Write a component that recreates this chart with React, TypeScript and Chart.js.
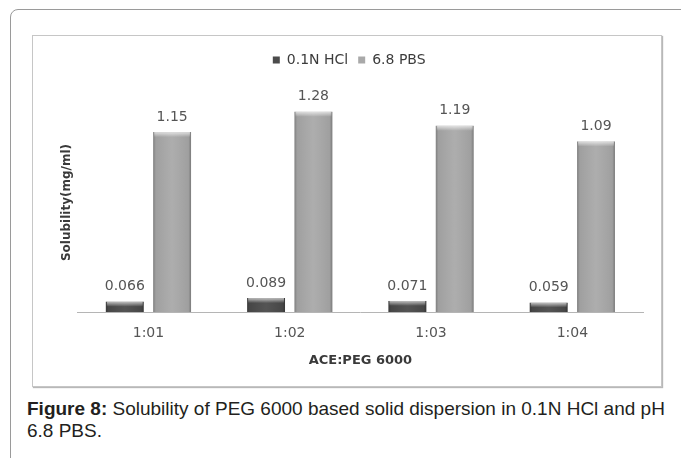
import React, { useEffect, useRef } from 'react';
import { Chart, registerables } from 'chart.js';

Chart.register(...registerables);

const categories = ['1:01', '1:02', '1:03', '1:04'];
const seriesNames = ['0.1N HCl', '6.8 PBS'];
const hclValues = [0.066, 0.089, 0.071, 0.059];
const pbsValues = [1.15, 1.28, 1.19, 1.09];
const xTitle = 'ACE:PEG 6000';
const yTitle = 'Solubility(mg/ml)';

const FONT = '"DejaVu Sans", sans-serif';

const bevelPlugin = {
  id: 'bevelAndLabels',
  afterDatasetsDraw(chart: any) {
    const ctx = chart.ctx;
    chart.data.datasets.forEach((ds: any, di: number) => {
      const meta = chart.getDatasetMeta(di);
      meta.data.forEach((el: any, i: number) => {
        const { x, y, base, width } = el.getProps(['x', 'y', 'base', 'width'], true);
        const left = x - width / 2;
        const right = x + width / 2;
        const top = Math.min(y, base);
        const bottom = Math.max(y, base);
        const h = bottom - top;
        ctx.save();
        const gh = ctx.createLinearGradient(left, 0, right, 0);
        gh.addColorStop(0, 'rgba(0,0,0,0.25)');
        gh.addColorStop(0.07, 'rgba(0,0,0,0.06)');
        gh.addColorStop(0.5, 'rgba(255,255,255,0.05)');
        gh.addColorStop(0.93, 'rgba(0,0,0,0.06)');
        gh.addColorStop(1, 'rgba(0,0,0,0.28)');
        ctx.fillStyle = gh;
        ctx.fillRect(left, top, width, h);
        const th = Math.min(5, h * 0.5);
        const gv = ctx.createLinearGradient(0, top, 0, top + th);
        gv.addColorStop(0, 'rgba(255,255,255,0.65)');
        gv.addColorStop(1, 'rgba(255,255,255,0)');
        ctx.fillStyle = gv;
        ctx.fillRect(left + 1, top, width - 2, th);
        ctx.restore();

        ctx.save();
        ctx.font = '14px ' + FONT;
        ctx.fillStyle = '#555555';
        ctx.textAlign = 'center';
        ctx.textBaseline = 'middle';
        ctx.fillText(String(ds.data[i]), x, top - 15);
        ctx.restore();
      });
    });
  },
};

export default function App() {
  const ref = useRef<HTMLCanvasElement | null>(null);

  useEffect(() => {
    if (!ref.current) return;
    const chart = new Chart(ref.current, {
      type: 'bar',
      data: {
        labels: categories,
        datasets: [
          {
            label: seriesNames[0],
            data: hclValues,
            backgroundColor: '#4b4b4b',
            borderWidth: 0,
            barPercentage: 0.8,
            categoryPercentage: 0.67,
          },
          {
            label: seriesNames[1],
            data: pbsValues,
            backgroundColor: '#a9a9a9',
            borderWidth: 0,
            barPercentage: 0.8,
            categoryPercentage: 0.67,
          },
        ],
      },
      options: {
        animation: false,
        responsive: false,
        maintainAspectRatio: false,
        events: [],
        layout: { padding: { left: 22.4, right: 18, top: 7, bottom: 16.6 } },
        plugins: {
          legend: {
            position: 'top',
            labels: {
              boxWidth: 7,
              boxHeight: 7,
              padding: 10,
              color: '#3c3c3c',
              font: { family: FONT, size: 14 },
            },
          },
          title: {
            display: true,
            text: '',
            weight: 500,
            padding: { top: 0, bottom: 6 },
            font: { size: 10, lineHeight: 1 },
          },
          tooltip: { enabled: false },
        },
        scales: {
          x: {
            grid: { display: false, drawTicks: false },
            border: { display: true, color: '#b5b5b5', width: 1 },
            ticks: { color: '#555555', padding: 13, font: { family: FONT, size: 14 } },
            title: {
              display: true,
              text: xTitle,
              color: '#3a3a3a',
              font: { family: FONT, size: 13, weight: 'bold' },
              padding: { top: -2, bottom: 1 },
            },
          },
          y: {
            min: 0,
            max: 1.4,
            grid: { display: false, drawTicks: false },
            border: { display: false },
            ticks: { display: false },
            title: {
              display: true,
              text: yTitle,
              color: '#3a3a3a',
              font: { family: FONT, size: 12, weight: 'bold' },
              padding: { top: 4, bottom: 4 },
            },
          },
        },
      },
      plugins: [bevelPlugin],
    } as any);
    return () => chart.destroy();
  }, []);

  return (
    <div
      style={{
        position: 'absolute',
        left: 0,
        top: 0,
        width: 681,
        height: 458,
        overflow: 'hidden',
        background: '#ffffff',
      }}
    >
      <div
        style={{
          position: 'absolute',
          left: 10,
          top: 9,
          width: 740,
          height: 540,
          border: '1px solid #9a9a9a',
          borderRadius: 8,
        }}
      />
      <div
        style={{
          position: 'absolute',
          left: 32,
          top: 35,
          width: 628,
          height: 350,
          border: '1px solid #c6c6c6',
          boxShadow: '1px 1px 1px #b8b8b8',
          background: '#ffffff',
        }}
      >
        <canvas ref={ref} width={628} height={350} style={{ display: 'block' }} />
      </div>
      <div
        style={{
          position: 'absolute',
          left: 27,
          top: 398,
          fontFamily: '"Liberation Sans", Arial, sans-serif',
          fontSize: 19,
          lineHeight: '22px',
          color: '#231f20',
          whiteSpace: 'nowrap',
        }}
      >
        <b>Figure 8:</b> Solubility of PEG 6000 based solid dispersion in 0.1N HCl and pH
        <br />
        6.8 PBS.
      </div>
    </div>
  );
}
